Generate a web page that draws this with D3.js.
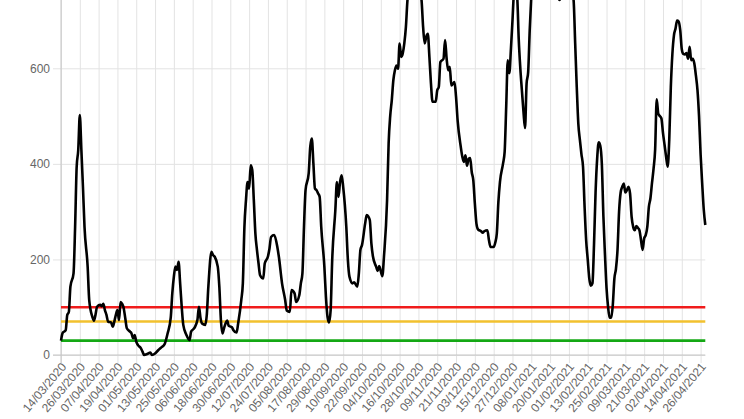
<!DOCTYPE html>
<html>
<head>
<meta charset="utf-8">
<script src="https://cdn.jsdelivr.net/npm/d3@7"></script>
<style>
  html, body { margin: 0; padding: 0; background: #fff; }
  svg { display: block; }
  text { font-family: "Helvetica Neue", Helvetica, Arial, "Liberation Sans", sans-serif; }
</style>
</head>
<body>
<svg id="chart" width="744" height="419"></svg>
<script>
// ---- data ----
const startDate = "14/03/2020";
const lastDay = 411; // day offset of last data point (29/04/2021)
const dayOffsets = [0,1,3,4,5,6,8,9,10,11,12,13,14,15,17,18,20,21,22,23,25,26,27,28,29,30,32,33,34,35,36,37,38,39,40,41,42,44,45,46,47,48,49,51,52,53,55,57,58,60,62,64,66,68,70,71,72,73,74,75,76,77,78,80,82,83,85,87,88,89,90,92,93,94,96,97,98,100,101,102,103,104,106,107,109,110,112,113,115,116,117,118,119,120,121,122,123,124,125,126,127,129,130,132,133,134,136,138,139,141,143,144,146,147,149,150,152,153,154,155,156,158,159,160,161,162,163,164,165,166,168,169,170,171,172,173,175,176,177,178,179,180,182,183,184,186,187,189,190,191,192,194,195,196,197,198,199,201,202,203,205,206,208,209,210,211,212,213,214,215,216,217,218,219,220,221,222,223,224,225,226,227,228,229,230,231,232,233,234,235,236,237,239,240,241,242,244,245,246,247,248,249,251,252,253,255,256,257,258,259,260,261,262,263,264,265,266,268,269,270,272,273,274,276,277,278,279,280,282,283,284,285,286,287,288,289,290,291,292,293,294,295,296,297,298,299,300,301,303,306,309,312,315,317,318,319,321,323,325,327,328,329,330,331,332,333,334,335,336,337,338,339,340,341,342,343,344,345,346,347,348,349,350,351,352,353,354,355,356,357,358,359,360,361,362,363,364,365,366,367,368,369,370,371,372,373,374,375,376,377,378,379,380,381,382,383,384,385,386,387,388,389,390,391,392,393,394,395,396,397,398,399,400,401,402,403,404,405,406,407,408,409,410,411];
const values = [30,46,52,84,90,143,171,268,394,429,502,429,352,268,185,115,80,72,84,101,105,102,107,94,84,70,68,59,70,84,94,73,111,107,98,77,56,49,45,35,42,28,21,14,7,0,2,5,0,3,10,16,22,45,78,129,164,185,178,195,150,101,63,42,31,49,56,73,101,77,66,63,84,143,216,209,206,185,143,73,45,56,72,61,58,52,47,66,115,150,268,324,362,348,397,387,324,254,220,192,167,160,192,206,223,247,251,226,205,150,115,93,90,136,129,111,125,150,171,268,345,380,436,453,401,348,345,338,331,268,185,122,80,68,94,199,303,362,331,362,376,352,268,199,164,150,152,143,171,220,230,275,293,290,282,233,206,185,176,186,165,205,324,443,500,533,575,596,606,599,652,624,631,652,686,742,770,790,800,805,800,790,775,760,742,686,652,666,672,624,568,530,530,554,561,613,620,659,620,596,603,564,571,540,491,436,415,404,418,396,410,412,383,366,317,275,263,259,256,259,261,240,226,226,235,254,320,362,401,425,520,617,590,640,700,760,770,750,660,600,554,510,475,568,592,680,750,800,850,880,860,820,780,750,743,750,790,800,780,742,652,561,484,450,420,394,310,240,200,160,145,150,230,340,410,445,438,400,290,210,140,100,78,78,105,160,180,220,300,340,352,359,340,345,352,338,289,268,261,270,266,261,240,220,244,251,268,310,328,360,390,430,535,505,500,495,465,440,415,394,450,560,630,669,683,700,698,680,640,630,629,632,620,645,617,620,610,585,555,500,420,360,305,272];
const tickLabels = ["14/03/2020","26/03/2020","07/04/2020","19/04/2020","01/05/2020","13/05/2020","25/05/2020","06/06/2020","18/06/2020","30/06/2020","12/07/2020","24/07/2020","05/08/2020","17/08/2020","29/08/2020","10/09/2020","22/09/2020","04/10/2020","16/10/2020","28/10/2020","09/11/2020","21/11/2020","03/12/2020","15/12/2020","27/12/2020","08/01/2021","20/01/2021","01/02/2021","13/02/2021","25/02/2021","09/03/2021","21/03/2021","02/04/2021","14/04/2021","26/04/2021"];
const yTicks = [0, 200, 400, 600];
const yGridExtra = [800];
const thresholdValues = [100, 70, 30];
const thresholdColors = ["#f01c1c", "#f2c12e", "#14a814"];

// ---- layout ----
const parse = d3.timeParse("%d/%m/%Y");
const fmt = d3.timeFormat("%d/%m/%Y");
const start = parse(startDate);
const end = d3.timeDay.offset(start, lastDay);
const data = dayOffsets.map((d, i) => ({ date: d3.timeDay.offset(start, d), value: values[i] }));

const left = 61, right = 705.3, bottom = 355;
const pxPerUnit = (355 - 68.3) / 600;
const x = d3.scaleTime().domain([start, end]).range([left, right]);
const y = d3.scaleLinear().domain([0, 800]).range([bottom, bottom - 800 * pxPerUnit]);

const svg = d3.select("#chart");

// vertical grid + x ticks
const xAxis = d3.axisBottom(x)
  .tickValues(tickLabels.map(parse))
  .tickFormat(fmt)
  .tickSize(-(bottom + 40))
  .tickSizeOuter(0)
  .tickPadding(0);
const gx = svg.append("g").attr("transform", `translate(0,${bottom})`).call(xAxis);
gx.select(".domain").remove();
gx.selectAll(".tick line").attr("stroke", "#e3e3e3").attr("stroke-width", 1).attr("y2", -(bottom + 40)).attr("y1", 8);
gx.selectAll(".tick text")
  .attr("fill", "#666")
  .style("font-size", "12px")
  .attr("text-anchor", "end")
  .attr("dy", null)
  .attr("dominant-baseline", "middle")
  .attr("transform", "translate(3,10) rotate(-50)")
  .attr("y", 0).attr("x", 0);

// horizontal grid + y ticks
const yAxis = d3.axisLeft(y).tickValues(yTicks).tickFormat(d3.format("d"))
  .tickSize(-(right - left)).tickSizeOuter(0).tickPadding(11);
const gy = svg.append("g").attr("transform", `translate(${left},0)`).call(yAxis);
gy.select(".domain").remove();
gy.selectAll(".tick line").attr("stroke", "#e3e3e3").attr("x1", -8);
gy.selectAll(".tick text").attr("fill", "#666").style("font-size", "12px");

// axis lines
svg.append("line").attr("x1", left).attr("x2", left).attr("y1", 0).attr("y2", bottom + 8)
  .attr("stroke", "#c4c4c4").attr("stroke-width", 1);
svg.append("line").attr("x1", left - 8).attr("x2", right).attr("y1", y(0)).attr("y2", y(0))
  .attr("stroke", "#c4c4c4").attr("stroke-width", 1);

// threshold lines
thresholdValues.forEach((v, i) => {
  svg.append("line")
    .attr("x1", x(start)).attr("x2", x(end))
    .attr("y1", y(v)).attr("y2", y(v))
    .attr("stroke", thresholdColors[i]).attr("stroke-width", 2.6);
});

// main line
const line = d3.line().x(d => x(d.date)).y(d => y(d.value)).curve(d3.curveMonotoneX);
svg.append("path").datum(data)
  .attr("fill", "none").attr("stroke", "#000").attr("stroke-width", 2.6)
  .attr("stroke-linejoin", "round")
  .attr("d", line);
</script>
</body>
</html>
